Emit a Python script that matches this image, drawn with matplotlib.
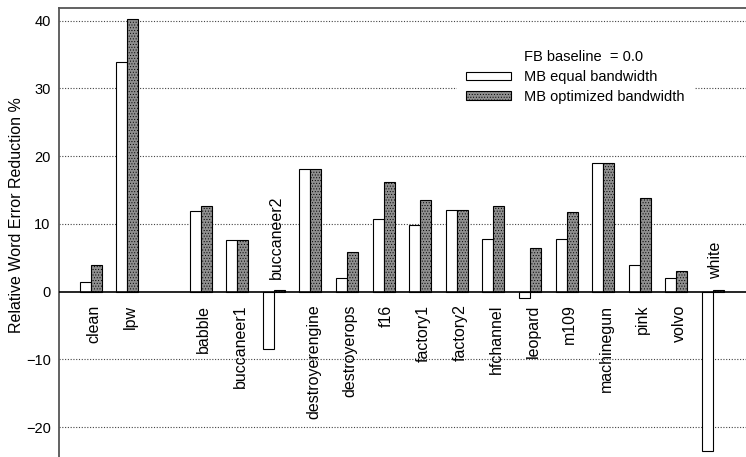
import matplotlib
matplotlib.use("Agg")
import matplotlib.pyplot as plt
from matplotlib.patches import Patch

plt.rcParams['font.family'] = ['Liberation Sans', 'DejaVu Sans']
plt.rcParams['hatch.linewidth'] = 0.4

# noise conditions, with an empty slot after the first two
noises = ["clean", "lpw", "babble", "buccaneer1", "buccaneer2", "destroyerengine",
          "destroyerops", "f16", "factory1", "factory2", "hfchannel", "leopard",
          "m109", "machinegun", "pink", "volvo", "white"]
slots = [0, 1, 3, 4, 5, 6, 7, 8, 9, 10, 11, 12, 13, 14, 15, 16, 17]

equal_bw = [1.4, 33.9, 11.9, 7.7, -8.5, 18.1, 2.0, 10.8, 9.9, 12.0, 7.8, -1.0,
            7.8, 18.95, 4.0, 2.0, -23.5]
optimized_bw = [3.9, 40.3, 12.6, 7.7, 0.2, 18.1, 5.8, 16.2, 13.6, 12.0, 12.7, 6.4,
                11.8, 18.95, 13.8, 3.05, 0.2]

# labels drawn above the axis line for these
above_axis = {"buccaneer2", "white"}

grey = '#8f8f8f'

fig = plt.figure(figsize=(7.46, 4.57), dpi=100)
ax = fig.add_axes([59 / 746, 0.0, 1 - 59 / 746, 1 - 8 / 457])

w = 0.3
ax.bar([s - w / 2 for s in slots], equal_bw, width=w, color='white',
       edgecolor='black', linewidth=0.8, zorder=3)
ax.bar([s + w / 2 for s in slots], optimized_bw, width=w, color=grey,
       edgecolor='black', linewidth=0.8, hatch='......', zorder=3)

ax.axhline(0, color='black', linewidth=1.2, zorder=4)
for g in [-20, -10, 10, 20, 30, 40]:
    ax.axhline(g, color='#444444', linewidth=0.8, linestyle=(0, (1, 1.5)), zorder=1)

for name, s in zip(noises, slots):
    if name in above_axis:
        ax.text(s + 0.08, 1.9, name, rotation=90, ha='center', va='bottom', fontsize=11.5)
    else:
        ax.text(s + 0.08, -1.9, name, rotation=90, ha='center', va='top', fontsize=11.5)

ax.set_xlim(-0.87, 17.9)
ax.set_ylim(-24.4, 41.87)
ax.set_xticks([])
ax.set_yticks([-20, -10, 0, 10, 20, 30, 40])
ax.tick_params(axis='y', length=0, pad=6, labelsize=10.5)

for side in ['right', 'bottom']:
    ax.spines[side].set_visible(False)
for side in ['left', 'top']:
    ax.spines[side].set_color('#555555')
    ax.spines[side].set_linewidth(1.3)

fig.text(17 / 746, 1 - 215 / 457, "Relative Word Error Reduction %", rotation=90,
         ha='center', va='center', fontsize=11.5)

handles = [Patch(facecolor='none', edgecolor='none'),
           Patch(facecolor='white', edgecolor='black', linewidth=0.8),
           Patch(facecolor=grey, edgecolor='black', linewidth=0.8, hatch='......')]
labels = ["FB baseline  = 0.0", "MB equal bandwidth", "MB optimized bandwidth"]
leg = ax.legend(handles, labels, loc='upper left',
                bbox_to_anchor=(450 / 746, 1 - 34 / 457), bbox_transform=fig.transFigure,
                fontsize=10.5, handlelength=3.1, handleheight=0.5, handletextpad=0.85,
                labelspacing=0.4, borderpad=0.6, fancybox=False, framealpha=1,
                edgecolor='white', facecolor='white')
leg.set_zorder(5)

fig.savefig("out.png", dpi=100)
